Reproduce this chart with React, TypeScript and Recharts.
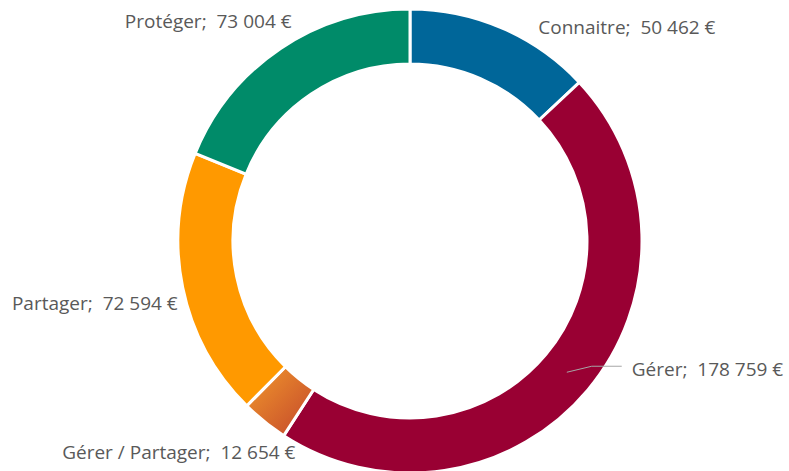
import { PieChart, Pie, Cell } from 'recharts'

// Budget split by axis — values
const CATEGORIES = ['Connaitre', 'Gérer', 'Gérer / Partager', 'Partager', 'Protéger']
const AMOUNTS = [50462, 178759, 12654, 72594, 73004]

const COLORS = ['#006699', '#990033', 'url(#gerPart)', '#ff9900', '#008b69']

// label offsets relative to the outer arc midpoint (Excel's "best fit" placement)
const LABEL_OFFSETS = [
  { dx: 36, dy: 1 },
  { dx: 0, dy: 0 }, // leader line case, handled below
  { dx: 31, dy: 32 },
  { dx: -5, dy: 17 },
  { dx: 11, dy: -26 },
]

const data = CATEGORIES.map((name, i) => ({ name, value: AMOUNTS[i] }))

const fmt = (v: number) => String(v).replace(/\B(?=(\d{3})+(?!\d))/g, ' ') + ' €'

const RAD = Math.PI / 180

function renderLabel(props: any) {
  const { cx, cy, midAngle, innerRadius, outerRadius, index, name, value } = props
  const cos = Math.cos(-midAngle * RAD)
  const sin = Math.sin(-midAngle * RAD)
  const text = `${name};  ${fmt(value)}`
  const style = { fontSize: 19, fill: '#595959', fontFamily: 'Open Sans, sans-serif', whiteSpace: 'pre' as const }

  if (index === 1) {
    // Gérer: label sits outside with a thin leader from the middle of the ring
    const rMid = (innerRadius + outerRadius) / 2
    const x0 = cx + rMid * cos
    const y0 = cy + rMid * sin
    const x1 = cx + (outerRadius + 5) * cos + 30
    const y1 = y0 - 6
    return (
      <g>
        <polyline points={`${x0},${y0} ${x1 - 30},${y1} ${x1},${y1}`} fill="none" stroke="#a6a6a6" strokeWidth={1} />
        <text x={x1 + 10} y={y1 + 5} dominantBaseline="middle" textAnchor="start" style={style}>{text}</text>
      </g>
    )
  }

  const x = cx + outerRadius * cos + LABEL_OFFSETS[index].dx
  const y = cy + outerRadius * sin + LABEL_OFFSETS[index].dy
  const anchor = x > cx ? 'start' : 'end'
  return (
    <text x={x} y={y} dominantBaseline="middle" textAnchor={anchor} style={style}>{text}</text>
  )
}

export default function App() {
  return (
    <div style={{ position: 'absolute', left: 0, top: 0, width: 789, height: 471, background: '#fff' }}>
      <PieChart width={789} height={471} margin={{ top: 0, right: 0, bottom: 0, left: 0 }}>
        <defs>
          <linearGradient id="gerPart" x1="0" y1="0" x2="1" y2="1">
            <stop offset="0%" stopColor="#f39a2c" />
            <stop offset="100%" stopColor="#c2452b" />
          </linearGradient>
        </defs>
        <Pie
          data={data}
          dataKey="value"
          nameKey="name"
          cx={410}
          cy={241}
          innerRadius={177}
          outerRadius={232}
          startAngle={90}
          endAngle={-270}
          stroke="#fff"
          strokeWidth={3}
          label={renderLabel}
          labelLine={false}
          isAnimationActive={false}
        >
          {data.map((_, i) => <Cell key={i} fill={COLORS[i]} />)}
        </Pie>
      </PieChart>
    </div>
  )
}
